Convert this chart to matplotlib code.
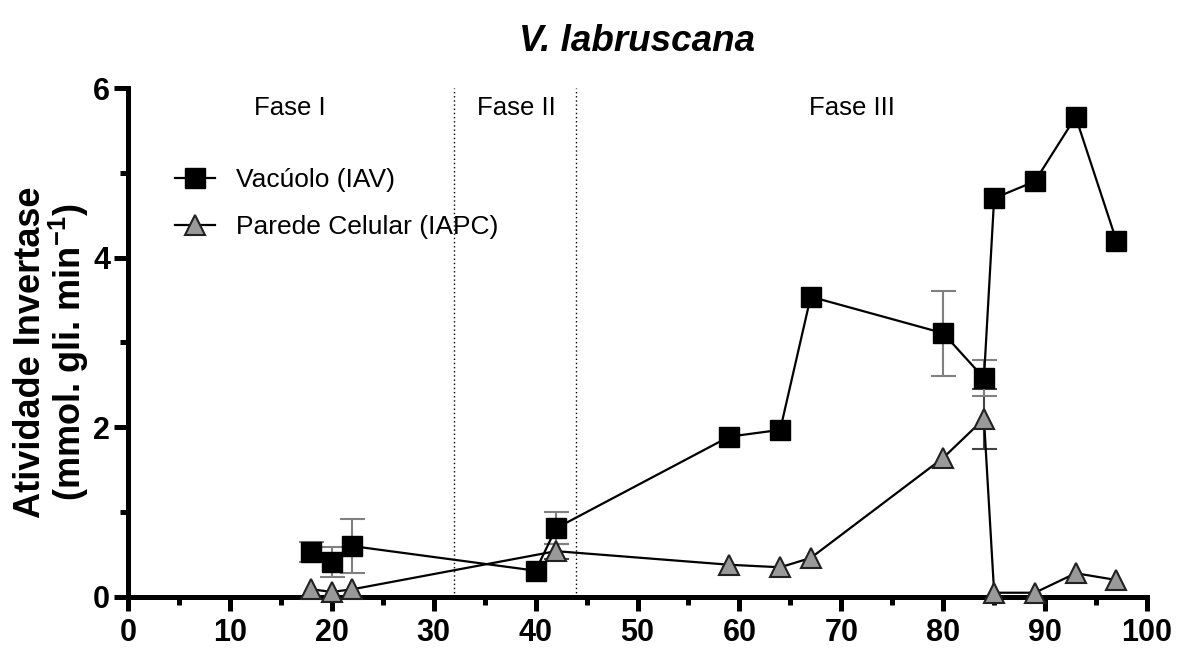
import numpy as np
import matplotlib
matplotlib.use("Agg")
from matplotlib import pyplot as plt
from matplotlib.ticker import MultipleLocator

plt.rcParams['font.family'] = ['Liberation Sans', 'DejaVu Sans']
plt.rcParams['mathtext.fontset'] = 'custom'
plt.rcParams['mathtext.rm'] = 'Liberation Sans'
plt.rcParams['mathtext.bf'] = 'Liberation Sans:bold'

# dias (eixo x) e atividade das invertases
dias_iav = [18, 20, 22, 40, 42, 59, 64, 67, 80, 84, 85, 89, 93, 97]
iav = [0.53, 0.41, 0.60, 0.31, 0.81, 1.89, 1.97, 3.54, 3.11, 2.58, 4.70, 4.90, 5.66, 4.20]
iav_err = [0.12, 0.18, 0.32, 0.0, 0.19, 0.0, 0.0, 0.0, 0.50, 0.21, 0.0, 0.0, 0.0, 0.0]

dias_iapc = [18, 20, 22, 42, 59, 64, 67, 80, 84, 85, 89, 93, 97]
iapc = [0.09, 0.06, 0.09, 0.54, 0.38, 0.35, 0.46, 1.64, 2.10, 0.05, 0.05, 0.28, 0.20]
iapc_err = [0.0, 0.0, 0.0, 0.09, 0.0, 0.0, 0.0, 0.0, 0.35, 0.0, 0.0, 0.0, 0.0]

fases = ["Fase I", "Fase II", "Fase III"]
fases_x = [15.9, 38.1, 71.0]
limites = [32, 44]

fig = plt.figure(figsize=(11.77, 6.52), dpi=100)
ax = fig.add_axes([0.1088, 0.0844, 0.8657, 0.7806])

for xl in limites:
    ax.axvline(xl, color='black', linestyle=(0, (1, 2)), linewidth=1.0, zorder=1)

# barras de erro so onde existem
def barras(xs, ys, es, cor, z):
    xs = np.array(xs); ys = np.array(ys); es = np.array(es)
    m = es > 0
    ax.errorbar(xs[m], ys[m], yerr=es[m], fmt='none', ecolor=cor,
                elinewidth=1.5, capsize=9, capthick=1.5, zorder=z)

barras(dias_iav, iav, iav_err, '#808080', 3)
barras(dias_iapc, iapc, iapc_err, '#444444', 2)

ax.plot(dias_iapc, iapc, color='black', linewidth=1.6, marker='^', markersize=14.5,
        markerfacecolor='#999999', markeredgecolor='#222222', markeredgewidth=1.5,
        label='Parede Celular (IAPC)', zorder=4, clip_on=False)
ax.plot(dias_iav, iav, color='black', linewidth=1.6, marker='s', markersize=14,
        markerfacecolor='black', markeredgecolor='black',
        label='Vacúolo (IAV)', zorder=5, clip_on=False)

for nome, fx in zip(fases, fases_x):
    ax.text(fx, 5.77, nome, ha='center', va='center', fontsize=18.5)

ax.set_xlim(0, 100)
ax.set_ylim(0, 6)
ax.xaxis.set_major_locator(MultipleLocator(10))
ax.xaxis.set_minor_locator(MultipleLocator(5))
ax.yaxis.set_major_locator(MultipleLocator(2))
ax.yaxis.set_minor_locator(MultipleLocator(1))

for s in ['top', 'right']:
    ax.spines[s].set_visible(False)
for s in ['left', 'bottom']:
    ax.spines[s].set_linewidth(3.6)
ax.tick_params(which='major', length=10, width=3.6, direction='out', labelsize=22, pad=3)
ax.tick_params(which='minor', length=6, width=3.6, direction='out')
ax.tick_params(axis='x', which='major', pad=5)
for lab in ax.get_xticklabels() + ax.get_yticklabels():
    lab.set_fontweight('bold')

ax.set_ylabel("Atividade Invertase\n(mmol. gli. min$\\mathbf{^{-1}}$)", fontsize=26,
              fontweight='bold', linespacing=0.98)
ax.yaxis.set_label_coords(-0.036, 0.48)
ax.set_title("V. labruscana", fontsize=26.5, fontweight='bold', style='italic', pad=27)

h, l = ax.get_legend_handles_labels()
ax.legend(h[::-1], l[::-1], loc='upper left', bbox_to_anchor=(0.046, 0.842),
          frameon=False, fontsize=19, handlelength=1.5, labelspacing=0.87,
          handletextpad=0.8, borderpad=0, borderaxespad=0)

fig.savefig("out.png", dpi=100)
